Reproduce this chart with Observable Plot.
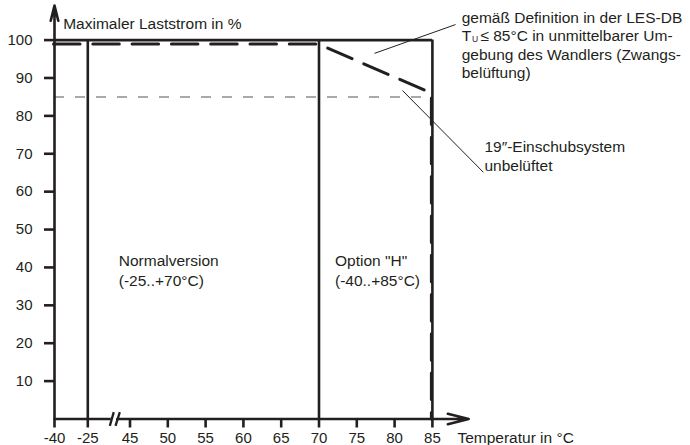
<!DOCTYPE html>
<html><head><meta charset="utf-8">
<script src="https://cdn.jsdelivr.net/npm/d3@7"></script>
<script src="https://cdn.jsdelivr.net/npm/@observablehq/plot@0.6"></script>
<style>html,body{margin:0;padding:0;background:#fff;} #chart{width:690px;height:445px;}</style>
</head><body><div id="chart"></div>
<script>
// ---- data ----
const xTicks = [-40, -25, 45, 50, 55, 60, 65, 70, 75, 80, 85];
const yTicks = [10, 20, 30, 40, 50, 60, 70, 80, 90, 100];
const xPieces = [-40, -25, 45, 90];          // broken temperature axis (domain pieces)
const regionBounds = [-25, 70, 85];           // solid vertical region borders
const boxTop = 100;                           // solid top border (%)
const deratingT = [-40, 70, 85, 85];          // forced ventilation curve, temperature
const deratingP = [99, 99, 86, 0];            // forced ventilation curve, load current %
const rackLevel = 85;                         // 19" rack, unventilated (%)
const axisGap = [14, 24];                     // break in the x axis
const xArrowTip = 89.8;
const yArrowTip = 109.1;
const slashX1 = [11.5, 21.0], slashX2 = [18.1, 28.1], slashY1 = [-1.8, -1.8], slashY2 = [1.8, 1.8];
const leaderX1 = [88.06, 81.04], leaderY1 = [104.1, 86.7], leaderX2 = [77.34, 91.75], leaderY2 = [96.5, 65.1];
const yLabel = "Maximaler Laststrom in %";
const xLabel = "Temperatur in °C";
const normalLabel = "Normalversion\n(-25..+70°C)";
const optionLabel = "Option \"H\"\n(-40..+85°C)";
const noteForced = "gemäß Definition in der LES-DB\nT\ngebung des Wandlers (Zwangs-\nbelüftung)";
const noteForcedLine2 = "≤ 85°C in unmittelbarer Um-";
const noteSub = "U";
const noteRack = "19″-Einschubsystem\nunbelüftet";

const FONT = "'Liberation Sans', Arial, Helvetica, sans-serif";
const INK = "#231f20";
const SW = 2.6;

const curve = deratingT.map((t, i) => ({t, p: deratingP[i]}));
const slashes = slashX1.map((x, i) => ({x1: x, x2: slashX2[i], y1: slashY1[i], y2: slashY2[i]}));
const leaders = leaderX1.map((x, i) => ({x1: x, x2: leaderX2[i], y1: leaderY1[i], y2: leaderY2[i]}));

const txt = (s, o) => Plot.text([s], {text: d => d, textAnchor: "start", fill: INK, ...o});

const chart = Plot.plot({
  width: 690, height: 445,
  marginLeft: 54, marginRight: 0, marginTop: 39.6, marginBottom: 26.5,
  x: {type: "linear", domain: xPieces, range: [54, 87.3, 129.5, 469.7]},
  y: {type: "linear", domain: [0, 100], range: [418.5, 39.6]},
  style: {fontFamily: FONT, fontSize: "15.5px", color: INK, background: "#fff", overflow: "visible"},
  marks: [
    // thin dashed 85% line
    Plot.ruleY([rackLevel], {x1: -40, x2: 85, stroke: "#555", strokeWidth: 1.1, strokeDasharray: "10,11"}),
    // box
    Plot.ruleX(regionBounds, {y1: 0, y2: boxTop, stroke: INK, strokeWidth: SW}),
    Plot.ruleY([boxTop], {x1: -40, x2: 85, stroke: INK, strokeWidth: SW}),
    // derating curve
    Plot.line(curve, {x: "t", y: "p", dx: -1, stroke: INK, strokeWidth: 3, strokeDasharray: "26.5,12.8"}),
    // axes lines with arrows
    Plot.arrow([0], {x1: -40, y1: 0, x2: -40, y2: yArrowTip, stroke: INK, strokeWidth: SW, headAngle: 28, headLength: 9}),
    Plot.ruleY([0], {x1: -40, x2: axisGap[0], stroke: INK, strokeWidth: SW}),
    Plot.arrow([0], {x1: axisGap[1], y1: 0, x2: xArrowTip, y2: 0, stroke: INK, strokeWidth: SW, headAngle: 28, headLength: 12.4}),
    Plot.link(slashes, {x1: "x1", y1: "y1", x2: "x2", y2: "y2", stroke: INK, strokeWidth: 2.3}),
    // ticks
    Plot.axisY(yTicks, {tickSize: 10, tickPadding: 12, strokeWidth: SW, fontSize: 15, label: null, tickFormat: d => String(d)}),
    Plot.axisX(xTicks, {tickSize: 9, tickPadding: 4, strokeWidth: SW, fontSize: 15, label: null, tickFormat: d => String(d)}),
    // leaders
    Plot.link(leaders, {x1: "x1", y1: "y1", x2: "x2", y2: "y2", stroke: INK, strokeWidth: 1}),
    // texts
    txt(yLabel, {x: -40, y: 105.9, dx: 8.7, lineAnchor: "top"}),
    txt(xLabel, {x: 85, y: 0, dx: 25, dy: 23.7, lineAnchor: "bottom"}),
    txt(normalLabel, {x: -25, y: 35.2, dx: 31, lineAnchor: "bottom", lineHeight: 1.29}),
    txt(optionLabel, {x: 70, y: 35.2, dx: 16, lineAnchor: "bottom", lineHeight: 1.29}),
    txt(noteForced, {x: 85, y: 90.0, dx: 29.3, lineAnchor: "bottom", lineHeight: 1.19}),
    txt(noteForcedLine2, {x: 85, y: 99.76, dx: 48, lineAnchor: "bottom"}),
    txt(noteSub, {x: 85, y: 99.6, dx: 39.7, fontSize: 8.5, lineAnchor: "bottom"}),
    txt(noteRack, {x: 85, y: 65.4, dx: 52, lineAnchor: "bottom", lineHeight: 1.26})
  ]
});
document.getElementById("chart").appendChild(chart);
</script>
</body></html>
